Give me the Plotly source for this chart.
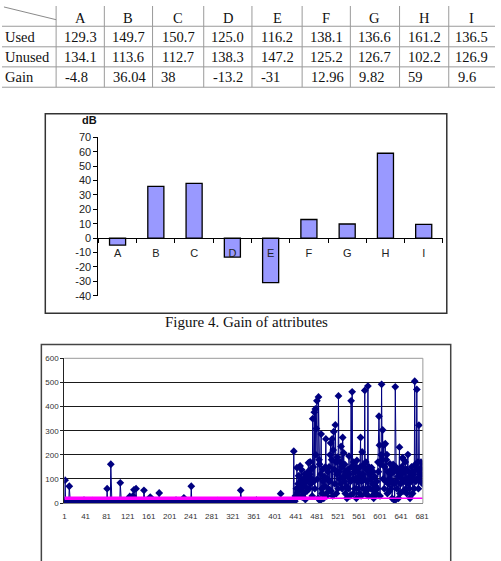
import plotly.graph_objects as go

W, H = 501, 561

# ---------------- data ----------------
attributes = ["A", "B", "C", "D", "E", "F", "G", "H", "I"]
row_labels = ["Used", "Unused", "Gain"]
used = [129.3, 149.7, 150.7, 125.0, 116.2, 138.1, 136.6, 161.2, 136.5]
unused = [134.1, 113.6, 112.7, 138.3, 147.2, 125.2, 126.7, 102.2, 126.9]
gain = [-4.8, 36.04, 38, -13.2, -31, 12.96, 9.82, 59, 9.6]

bar_y_ticks = [70, 60, 50, 40, 30, 20, 10, 0, -10, -20, -30, -40]
bar_unit = "dB"
caption = "Figure 4. Gain of attributes"

# per-sample values of the lower chart (samples 1..440)
series_low = [
    8, 95, 12, 6, 4, 9, 3, 7, 5, 70, 10, 4, 6, 3, 8, 5, 2, 7, 4, 6,
    3, 9, 5, 2, 6, 8, 4, 3, 7, 5, 2, 9, 6, 4, 3, 8, 5, 12, 4, 6,
    2, 7, 5, 3, 9, 4, 6, 2, 8, 5, 3, 7, 4, 10, 6, 2, 5, 8, 3, 4,
    7, 5, 2, 6, 9, 3, 4, 8, 5, 2, 6, 3, 7, 4, 9, 5, 2, 6, 4, 8,
    3, 60, 5, 7, 2, 6, 4, 9, 161, 5, 3, 7, 4, 2, 8, 6, 3, 5, 9, 4,
    2, 6, 4, 8, 3, 5, 84, 7, 2, 4, 9, 6, 3, 5, 2, 8, 4, 6, 3, 7,
    5, 2, 9, 4, 28, 6, 3, 8, 5, 12, 30, 4, 55, 7, 3, 15, 60, 9, 4, 6,
    2, 8, 5, 3, 7, 4, 10, 6, 2, 5, 9, 53, 4, 3, 8, 5, 2, 6, 7, 4,
    3, 9, 5, 25, 4, 6, 2, 8, 3, 5, 7, 4, 2, 9, 6, 3, 5, 8, 4, 2,
    42, 6, 3, 7, 5, 2, 8, 4, 6, 3, 9, 5, 2, 7, 4, 6, 3, 8, 5, 2,
    6, 4, 9, 3, 7, 5, 2, 8, 4, 6, 3, 5, 12, 7, 2, 4, 9, 6, 3, 5,
    8, 2, 4, 7, 5, 3, 9, 22, 6, 4, 2, 8, 5, 3, 7, 4, 6, 2, 9, 5,
    3, 70, 4, 6, 8, 2, 5, 7, 3, 9, 4, 6, 2, 8, 5, 3, 7, 4, 6, 2,
    9, 5, 3, 8, 4, 6, 2, 7, 5, 3, 9, 4, 6, 2, 8, 5, 3, 7, 4, 6,
    2, 9, 5, 3, 8, 4, 6, 2, 7, 5, 3, 10, 4, 6, 2, 8, 5, 3, 7, 4,
    6, 2, 9, 5, 3, 8, 4, 6, 2, 7, 5, 3, 9, 4, 6, 2, 8, 5, 3, 7,
    4, 6, 2, 9, 5, 3, 8, 4, 6, 2, 7, 5, 3, 9, 4, 53, 6, 2, 8, 5,
    3, 7, 4, 6, 2, 9, 5, 3, 8, 4, 6, 2, 7, 5, 3, 9, 4, 6, 2, 8,
    5, 3, 7, 4, 6, 12, 9, 5, 3, 8, 4, 6, 2, 7, 5, 3, 9, 4, 6, 2,
    8, 5, 3, 7, 4, 6, 2, 9, 5, 3, 8, 4, 6, 2, 7, 5, 3, 9, 4, 6,
    2, 8, 5, 3, 7, 4, 6, 2, 9, 5, 3, 39, 4, 6, 2, 7, 5, 3, 9, 4,
    6, 2, 8, 5, 3, 7, 4, 6, 9, 5, 3, 8, 10, 6, 4, 12, 215, 15, 8, 30,
]
# samples 441..682
series_high = [
    20, 60, 147, 45, 80, 113, 30, 70, 154, 55, 90, 138, 25, 75, 100, 40, 85, 120, 15, 65,
    110, 50, 95, 130, 167, 60, 120, 171, 80, 140, 100, 30, 350, 150, 90, 377, 60, 390, 200, 309,
    424, 100, 20, 440, 180, 161, 10, 120, 286, 60, 40, 140, 90, 20, 110, 70, 150, 266, 40, 30,
    100, 130, 60, 150, 90, 200, 249, 50, 180, 266, 30, 220, 296, 140, 80, 324, 170, 40, 120, 190,
    60, 444, 130, 100, 170, 80, 235, 150, 60, 272, 110, 208, 90, 160, 40, 130, 70, 20, 110, 140,
    60, 195, 120, 30, 90, 424, 150, 461, 100, 40, 170, 130, 60, 100, 150, 20, 177, 90, 130, 60,
    110, 40, 150, 272, 30, 90, 212, 120, 60, 160, 100, 467, 40, 170, 140, 90, 60, 485, 30, 150,
    120, 60, 140, 100, 147, 30, 80, 130, 20, 50, 110, 30, 70, 40, 90, 60, 170, 130, 360, 240,
    30, 160, 200, 492, 180, 303, 100, 240, 60, 150, 246, 90, 180, 201, 40, 130, 80, 100, 50, 163,
    120, 60, 140, 20, 90, 160, 130, 80, 10, 482, 150, 90, 60, 130, 110, 20, 140, 232, 40, 80,
    120, 150, 100, 188, 50, 180, 130, 90, 170, 60, 140, 40, 100, 201, 80, 130, 60, 20, 110, 90,
    150, 130, 40, 100, 120, 60, 505, 160, 90, 140, 471, 100, 170, 60, 323, 110, 140, 90, 170, 120,
    150, 80,
]
series = series_low + series_high
sample_index = list(range(1, len(series) + 1))

threshold = 20
threshold_bold_end = 500
line_x_ticks = [1, 41, 81, 121, 161, 201, 241, 281, 321, 361, 401, 441, 481, 521, 561, 601, 641, 681]
line_y_ticks = [0, 100, 200, 300, 400, 500, 600]


def fx(px):
    return px / W


def fy(py):
    return 1 - py / H


SERIF = "Liberation Serif"
SANS = "Liberation Sans"
GRID = "#9a9a9a"

# table geometry (pixels)
col_edges = [0, 55, 104, 153, 205, 254, 305, 354, 404, 454, 501]
row_edges = [0, 20.7, 41.7, 62.2, 83]

shapes = []
annotations = []
tfont = dict(family=SERIF, size=14.5, color="#111")

for xe in col_edges[1:-1]:
    shapes.append(dict(type="line", xref="paper", yref="paper",
                       x0=fx(xe), x1=fx(xe), y0=fy(row_edges[0]), y1=fy(row_edges[-1]),
                       line=dict(color=GRID, width=1)))
for ye in row_edges[1:]:
    shapes.append(dict(type="line", xref="paper", yref="paper",
                       x0=0, x1=1, y0=fy(ye), y1=fy(ye),
                       line=dict(color=GRID, width=1)))
# diagonal in corner cell
shapes.append(dict(type="line", xref="paper", yref="paper",
                   x0=fx(2), y0=fy(1), x1=fx(55), y1=fy(14),
                   line=dict(color="#8a8a8a", width=1)))


def row_mid(r):
    return (row_edges[r] + row_edges[r + 1]) / 2


# header
for c, name in enumerate(attributes):
    xc = (col_edges[c + 1] + col_edges[c + 2]) / 2
    annotations.append(dict(text=name, xref="paper", yref="paper",
                            x=fx(xc), y=fy(row_mid(0) + 2), showarrow=False,
                            xanchor="center", yanchor="middle", font=tfont))
# row labels
for r, lab in enumerate(row_labels):
    annotations.append(dict(text=lab, xref="paper", yref="paper",
                            x=fx(1), y=fy(row_mid(r + 1)), showarrow=False,
                            xanchor="left", yanchor="middle", font=tfont))
# body
for c in range(len(attributes)):
    xl, xr = col_edges[c + 1], col_edges[c + 2]
    for r, txt in enumerate([f"{used[c]:.1f}", f"{unused[c]:.1f}"]):
        annotations.append(dict(text=txt, xref="paper", yref="paper",
                                x=fx((xl + xr) / 2), y=fy(row_mid(r + 1)), showarrow=False,
                                xanchor="center", yanchor="middle", font=tfont))
    annotations.append(dict(text=f"{gain[c]:g}", xref="paper", yref="paper",
                            x=fx(xl + 7), y=fy(row_mid(3)), showarrow=False,
                            xanchor="left", yanchor="middle", font=tfont))

# ---------------- bar chart ----------------
bars = go.Bar(
    x=attributes,
    y=gain,
    width=0.42,
    marker=dict(color="#9999FF", line=dict(color="#000000", width=1.3)),
    xaxis="x",
    yaxis="y",
    showlegend=False,
)

# ---------------- line chart ----------------
main_line = go.Scatter(
    x=sample_index,
    y=series,
    mode="lines+markers",
    line=dict(color="#000080", width=1),
    marker=dict(symbol="diamond", size=6, color="#000080"),
    xaxis="x2",
    yaxis="y2",
    showlegend=False,
)
thin_threshold = go.Scatter(
    x=[sample_index[0], sample_index[-1]],
    y=[threshold, threshold],
    mode="lines",
    line=dict(color="#FF00FF", width=1.5),
    xaxis="x2",
    yaxis="y2",
    showlegend=False,
)
bold_threshold = go.Scatter(
    x=[sample_index[0], threshold_bold_end],
    y=[threshold, threshold],
    mode="lines",
    line=dict(color="#FF00FF", width=3.5),
    xaxis="x2",
    yaxis="y2",
    showlegend=False,
)

fig = go.Figure([bars, main_line, thin_threshold, bold_threshold])

bar_zero_py = 134.3 + (70 - 0) / 110 * (296 - 134.3)

shapes += [
    dict(type="rect", xref="paper", yref="paper",
         x0=fx(44), x1=fx(452), y0=fy(314), y1=fy(110),
         line=dict(color="#333", width=1.5)),
    dict(type="rect", xref="paper", yref="paper",
         x0=fx(40), x1=fx(456), y0=fy(580), y1=fy(346),
         line=dict(color="#444", width=1.5)),
    dict(type="line", xref="x2 domain", yref="y2 domain",
         x0=0, x1=1, y0=1, y1=1, layer="above",
         line=dict(color="#999", width=1)),
    dict(type="line", xref="x2 domain", yref="y2 domain",
         x0=1, x1=1, y0=0, y1=1, layer="above",
         line=dict(color="#999", width=1)),
]
annotations += [
    dict(text=f"<b>{bar_unit}</b>", xref="paper", yref="paper",
         x=fx(89), y=fy(117), showarrow=False, xanchor="center", yanchor="middle",
         font=dict(family=SANS, size=11, color="#111")),
    dict(text=caption, xref="paper", yref="paper",
         x=fx(248), y=fy(323), showarrow=False, xanchor="center", yanchor="middle",
         font=dict(family=SERIF, size=15, color="#111")),
]

fig.update_layout(
    width=W,
    height=H,
    autosize=False,
    margin=dict(l=0, r=0, t=0, b=0),
    paper_bgcolor="white",
    plot_bgcolor="rgba(0,0,0,0)",
    showlegend=False,
    xaxis=dict(
        domain=[fx(98), fx(448)],
        anchor="free",
        position=fy(bar_zero_py),
        type="category",
        range=[-0.5, 8.5],
        showline=True,
        linecolor="#000",
        linewidth=1,
        ticks="outside",
        tickson="boundaries",
        ticklen=4,
        tickcolor="#000",
        ticklabelstandoff=5,
        tickfont=dict(family=SANS, size=11, color="#222"),
        showgrid=False,
        zeroline=False,
    ),
    yaxis=dict(
        domain=[fy(296), fy(134.3)],
        anchor="x",
        range=[-40, 70],
        tickvals=bar_y_ticks,
        ticktext=[str(v) for v in bar_y_ticks],
        showline=True,
        linecolor="#000",
        linewidth=1,
        ticks="outside",
        ticklen=4,
        tickcolor="#000",
        tickfont=dict(family=SANS, size=11, color="#222"),
        showgrid=False,
        zeroline=False,
    ),
    xaxis2=dict(
        domain=[fx(63.3), fx(427.7)],
        anchor="y2",
        range=[0.5, len(series) + 0.5],
        tickvals=line_x_ticks,
        ticktext=[str(v) for v in line_x_ticks],
        ticks="",
        ticklabelstandoff=5,
        showline=True,
        linecolor="#888",
        tickfont=dict(family=SANS, size=8, color="#333"),
        showgrid=False,
        zeroline=False,
    ),
    yaxis2=dict(
        domain=[fy(508), fy(360)],
        anchor="x2",
        range=[0, 600],
        tickvals=line_y_ticks,
        ticktext=[str(v) for v in line_y_ticks],
        showline=True,
        linecolor="#222",
        ticks="outside",
        ticklen=3,
        tickcolor="#222",
        tickfont=dict(family=SANS, size=8, color="#333"),
        showgrid=True,
        gridcolor="#1a1a1a",
        gridwidth=1,
        zeroline=False,
    ),
    shapes=shapes,
    annotations=annotations,
)

fig.write_html("out.html")
